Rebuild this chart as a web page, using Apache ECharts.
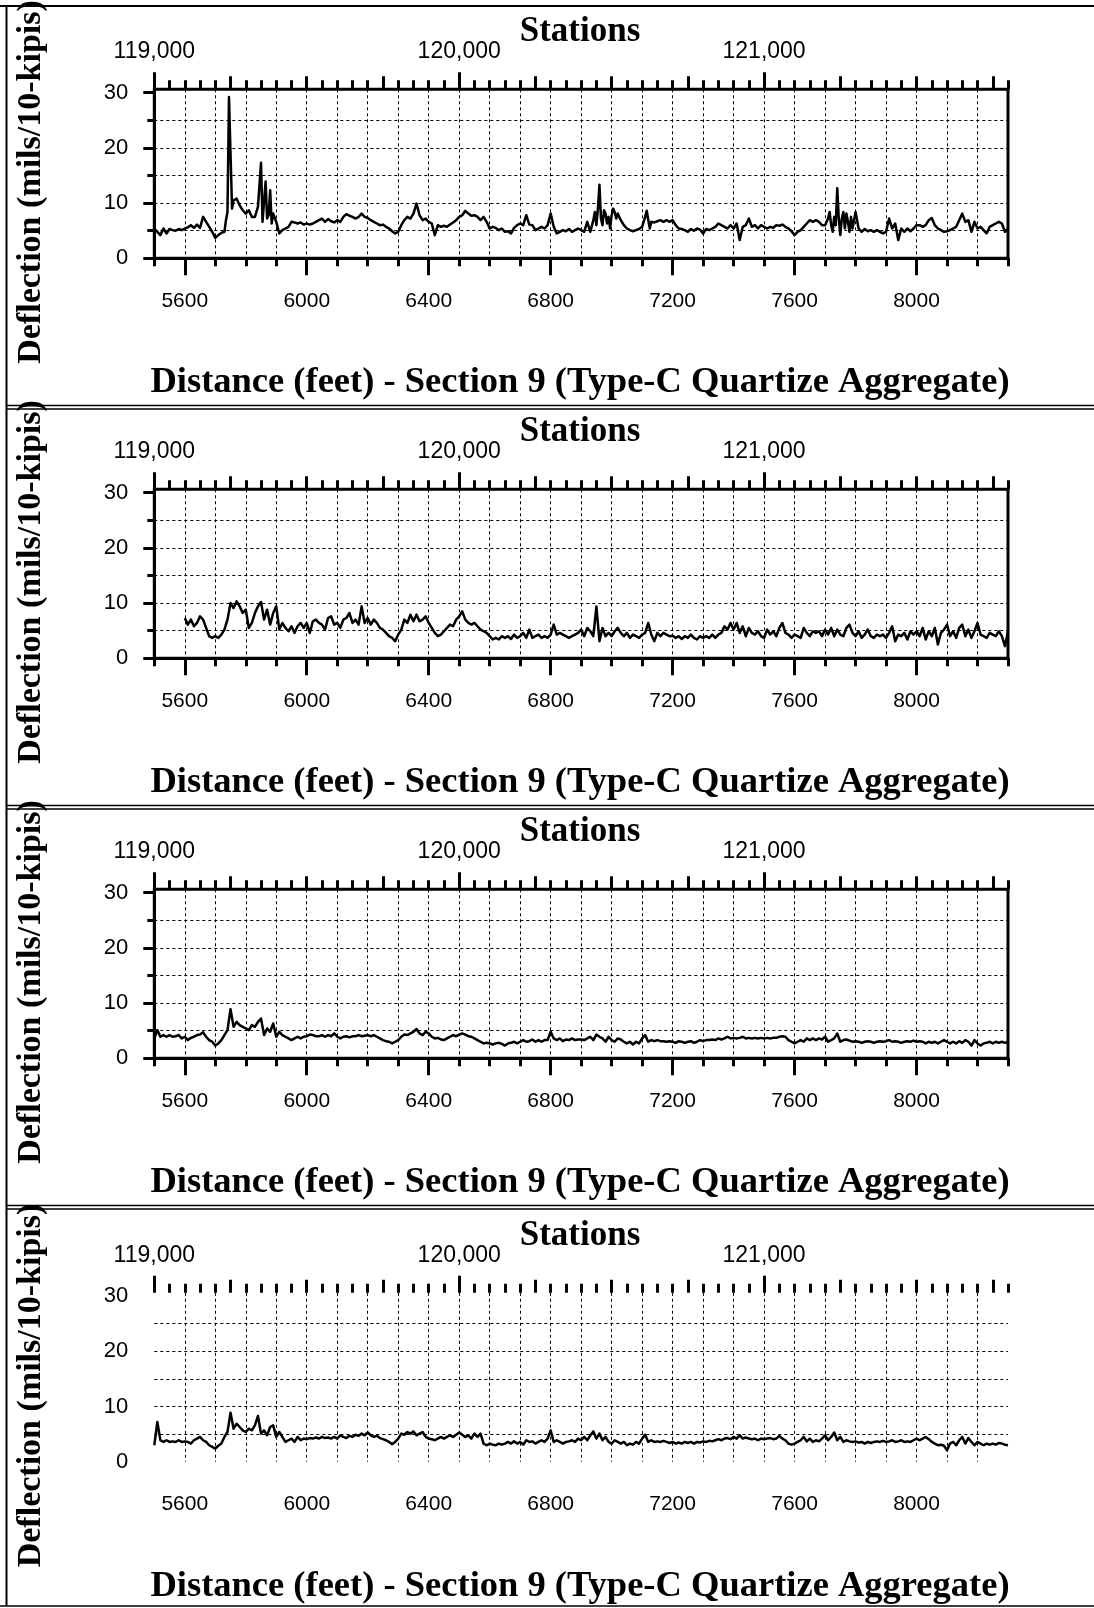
<!DOCTYPE html>
<html>
<head>
<meta charset="utf-8">
<title>Deflection profiles - Section 9</title>
<script src="https://cdn.jsdelivr.net/npm/echarts@6/dist/echarts.min.js"></script>
<style>
  html, body { margin: 0; padding: 0; background: #fff; }
  #chart { width: 1094px; height: 1608px; }
</style>
</head>
<body>
<div id="chart"></div>
<script>
// ---- axis ranges and tick values ----
const X_MIN = 5500, X_MAX = 8300;           // distance (feet)
const STA_MIN = 119000, STA_MAX = 121800;   // stations
const Y_MIN = 0, Y_MAX = 30.6;              // deflection (mils/10-kips)

const distLabels = [5600, 6000, 6400, 6800, 7200, 7600, 8000];
const distMinorTicks = [5500, 5600, 5700, 5800, 5900, 6000, 6100, 6200, 6300, 6400, 6500, 6600, 6700, 6800, 6900,
  7000, 7100, 7200, 7300, 7400, 7500, 7600, 7700, 7800, 7900, 8000, 8100, 8200, 8300];
const distGridLines = [5600, 5700, 5800, 5900, 6000, 6100, 6200, 6300, 6400, 6500, 6600, 6700, 6800, 6900,
  7000, 7100, 7200, 7300, 7400, 7500, 7600, 7700, 7800, 7900, 8000, 8100, 8200];
const stationLabels = [119000, 120000, 121000];
const stationTicks250 = [119000, 119250, 119500, 119750, 120000, 120250, 120500, 120750, 121000, 121250, 121500, 121750];
const stationTicks50 = [119000, 119050, 119100, 119150, 119200, 119250, 119300, 119350, 119400, 119450,
  119500, 119550, 119600, 119650, 119700, 119750, 119800, 119850, 119900, 119950,
  120000, 120050, 120100, 120150, 120200, 120250, 120300, 120350, 120400, 120450,
  120500, 120550, 120600, 120650, 120700, 120750, 120800, 120850, 120900, 120950,
  121000, 121050, 121100, 121150, 121200, 121250, 121300, 121350, 121400, 121450,
  121500, 121550, 121600, 121650, 121700, 121750, 121800];
const yLabels = [0, 10, 20, 30];
const yMinorTicks = [5, 15, 25];
const yGridLines = [5, 10, 15, 20, 25];

// ---- measurements ----
// run 1: [distance, deflection]
const run1 = [
  [5500,5.4],[5510,4.8],[5520,4.2],[5530,5.4],[5540,4.5],[5550,5.3],[5560,5.1],[5570,5.0],[5580,5.3],[5590,5.1],
  [5600,5.4],[5610,5.6],[5620,6.0],[5630,5.5],[5640,6.1],[5650,5.5],[5660,7.5],[5670,6.6],[5680,5.7],[5690,4.8],
  [5700,3.7],[5710,4.2],[5720,4.6],[5730,4.8],[5735,6.9],[5740,8.4],[5745,29.2],[5750,19.0],[5755,9.0],[5760,10.5],
  [5770,10.8],[5780,9.6],[5790,8.7],[5800,8.1],[5810,8.7],[5820,7.5],[5830,7.5],[5840,9.3],[5845,9.0],[5850,17.3],
  [5855,6.6],[5860,6.3],[5865,13.9],[5870,7.2],[5875,7.8],[5880,12.3],[5885,6.3],[5890,8.1],[5895,8.4],[5900,6.6],
  [5910,4.5],[5920,5.1],[5930,5.4],[5940,5.7],[5950,6.6],[5960,6.5],[5970,6.3],[5980,6.5],[5990,6.1],[6000,6.3],
  [6010,6.1],[6020,6.3],[6030,6.6],[6040,6.9],[6050,7.2],[6060,6.6],[6070,7.1],[6080,6.7],[6090,6.5],[6100,6.9],
  [6110,6.6],[6120,7.5],[6130,8.0],[6140,7.7],[6150,7.5],[6160,7.2],[6170,7.5],[6180,8.1],[6190,7.5],[6200,7.3],
  [6210,6.9],[6220,6.6],[6230,6.3],[6240,6.0],[6250,6.1],[6260,5.7],[6270,5.4],[6280,4.9],[6290,4.5],[6300,4.8],
  [6310,6.0],[6320,6.9],[6330,7.5],[6340,7.2],[6350,8.1],[6360,9.9],[6370,7.8],[6380,6.9],[6390,7.2],[6400,6.6],
  [6410,6.3],[6420,4.2],[6430,6.0],[6440,5.7],[6450,5.9],[6460,5.7],[6470,6.1],[6480,6.5],[6490,6.9],[6500,7.5],
  [6510,7.8],[6520,8.6],[6530,8.1],[6540,7.7],[6550,7.8],[6560,7.5],[6570,6.9],[6580,7.5],[6590,6.6],[6600,5.4],
  [6610,5.7],[6620,5.5],[6630,5.1],[6640,5.4],[6650,4.8],[6660,4.9],[6670,4.5],[6680,5.5],[6690,6.0],[6700,6.3],
  [6710,6.0],[6720,7.8],[6730,6.1],[6740,6.0],[6750,5.1],[6760,5.4],[6770,5.7],[6780,5.4],[6790,6.0],[6800,8.1],
  [6810,5.7],[6820,4.5],[6830,4.8],[6840,5.1],[6850,4.9],[6860,5.3],[6870,4.8],[6880,5.1],[6890,5.4],[6900,5.1],
  [6910,4.8],[6920,6.6],[6930,4.8],[6940,6.9],[6945,8.4],[6950,6.0],[6955,9.0],[6960,13.3],[6965,7.2],[6970,6.0],
  [6975,8.7],[6980,8.1],[6985,6.3],[6990,7.5],[6995,5.4],[7000,7.8],[7005,9.0],[7010,8.4],[7015,7.2],[7020,8.1],
  [7030,6.9],[7040,6.0],[7050,5.4],[7060,5.1],[7070,4.9],[7080,5.1],[7090,5.3],[7100,5.7],[7105,6.0],[7110,7.5],
  [7115,8.6],[7120,8.4],[7125,5.4],[7130,6.6],[7140,6.5],[7150,6.7],[7160,6.9],[7170,6.6],[7180,6.9],[7190,6.6],
  [7200,6.9],[7210,6.0],[7220,5.4],[7230,5.3],[7240,5.1],[7250,4.8],[7260,5.3],[7270,5.0],[7280,5.4],[7290,5.2],
  [7300,4.5],[7310,5.3],[7320,5.1],[7330,5.4],[7340,5.7],[7350,6.3],[7360,6.0],[7370,5.7],[7380,5.4],[7390,6.0],
  [7400,5.4],[7410,6.3],[7420,3.3],[7430,5.7],[7440,6.0],[7450,7.2],[7460,5.7],[7470,6.0],[7480,5.4],[7490,6.0],
  [7500,5.7],[7510,5.4],[7520,5.7],[7530,5.5],[7540,6.0],[7550,5.9],[7560,6.1],[7570,5.7],[7580,5.4],[7590,4.9],
  [7600,4.2],[7610,4.8],[7620,5.1],[7630,5.7],[7640,6.3],[7650,6.9],[7660,6.6],[7670,6.9],[7680,6.6],[7690,6.0],
  [7700,6.0],[7710,7.2],[7715,8.4],[7720,6.0],[7725,4.8],[7730,7.5],[7735,6.0],[7740,12.7],[7745,7.2],[7750,4.2],
  [7755,7.2],[7760,8.4],[7765,5.4],[7770,8.1],[7775,6.6],[7780,4.8],[7785,7.5],[7790,5.4],[7800,8.4],[7810,5.4],
  [7820,4.8],[7830,5.3],[7840,4.9],[7850,5.1],[7860,4.8],[7870,5.1],[7880,4.8],[7890,4.5],[7900,4.8],[7910,7.2],
  [7920,5.4],[7930,6.3],[7940,3.3],[7950,5.4],[7960,4.8],[7970,5.4],[7980,4.9],[7990,5.4],[8000,6.0],[8010,6.0],
  [8020,5.7],[8030,6.0],[8040,6.9],[8050,7.3],[8060,6.0],[8070,5.4],[8080,5.1],[8090,4.8],[8100,4.9],[8110,5.1],
  [8120,5.4],[8130,5.7],[8140,6.9],[8150,8.1],[8160,6.6],[8170,6.9],[8180,4.8],[8190,6.6],[8200,5.4],[8210,5.7],
  [8220,5.1],[8230,4.5],[8240,5.7],[8250,6.0],[8260,6.3],[8270,6.6],[8280,6.3],[8290,4.8],[8300,5.4]
];

// runs 2-4 share these distances (feet)
const distance = [
  5500,5510,5520,5530,5540,5550,5560,5570,5580,5590,
  5600,5610,5620,5630,5640,5650,5660,5670,5680,5690,
  5700,5710,5720,5730,5740,5750,5760,5770,5780,5790,
  5800,5810,5820,5830,5840,5850,5860,5870,5880,5890,
  5900,5910,5920,5930,5940,5950,5960,5970,5980,5990,
  6000,6010,6020,6030,6040,6050,6060,6070,6080,6090,
  6100,6110,6120,6130,6140,6150,6160,6170,6180,6190,
  6200,6210,6220,6230,6240,6250,6260,6270,6280,6290,
  6300,6310,6320,6330,6340,6350,6360,6370,6380,6390,
  6400,6410,6420,6430,6440,6450,6460,6470,6480,6490,
  6500,6510,6520,6530,6540,6550,6560,6570,6580,6590,
  6600,6610,6620,6630,6640,6650,6660,6670,6680,6690,
  6700,6710,6720,6730,6740,6750,6760,6770,6780,6790,
  6800,6810,6820,6830,6840,6850,6860,6870,6880,6890,
  6900,6910,6920,6930,6940,6950,6960,6970,6980,6990,
  7000,7010,7020,7030,7040,7050,7060,7070,7080,7090,
  7100,7110,7120,7130,7140,7150,7160,7170,7180,7190,
  7200,7210,7220,7230,7240,7250,7260,7270,7280,7290,
  7300,7310,7320,7330,7340,7350,7360,7370,7380,7390,
  7400,7410,7420,7430,7440,7450,7460,7470,7480,7490,
  7500,7510,7520,7530,7540,7550,7560,7570,7580,7590,
  7600,7610,7620,7630,7640,7650,7660,7670,7680,7690,
  7700,7710,7720,7730,7740,7750,7760,7770,7780,7790,
  7800,7810,7820,7830,7840,7850,7860,7870,7880,7890,
  7900,7910,7920,7930,7940,7950,7960,7970,7980,7990,
  8000,8010,8020,8030,8040,8050,8060,8070,8080,8090,
  8100,8110,8120,8130,8140,8150,8160,8170,8180,8190,
  8200,8210,8220,8230,8240,8250,8260,8270,8280,8290,
  8300
];

const run2 = [
  null,null,null,null,null,null,null,null,null,null,
  7.3,6.1,7.0,5.8,6.4,7.6,7.0,5.5,4.0,3.7,
  4.0,3.7,4.3,5.2,7.0,10.0,9.1,10.3,9.4,8.2,
  8.8,5.5,6.4,8.2,9.4,10.2,7.0,8.8,6.1,8.2,
  9.4,5.2,6.4,5.5,4.9,5.8,4.6,5.8,6.4,5.5,
  6.4,4.6,6.7,7.0,6.4,6.1,5.2,7.3,7.6,6.1,
  6.4,5.5,7.0,7.3,8.2,6.4,7.0,6.1,9.4,6.4,
  7.3,6.1,7.0,6.4,5.5,5.2,4.6,4.0,3.7,3.1,
  4.3,5.2,7.0,6.4,7.9,6.7,7.9,6.7,7.0,7.6,
  6.4,5.5,4.6,4.0,4.3,4.9,5.5,6.1,5.8,7.0,
  7.6,8.5,7.0,6.4,6.1,6.4,5.8,5.2,4.9,4.6,
  4.0,3.4,3.7,3.4,4.0,3.7,4.0,3.5,4.3,3.7,
  4.0,4.6,3.7,5.2,3.7,4.0,4.3,3.7,4.0,3.7,
  4.3,6.1,4.3,4.6,4.3,4.0,3.7,4.0,4.3,4.6,
  5.2,4.0,5.5,4.9,4.0,9.4,3.1,5.5,4.0,4.6,
  4.0,4.9,5.5,4.6,4.0,4.6,3.7,4.3,4.0,3.7,
  4.3,4.6,6.4,4.3,3.1,4.6,4.0,4.6,4.3,4.0,
  4.1,3.7,4.0,3.5,4.0,3.7,4.3,3.7,3.4,4.0,
  3.7,4.0,3.7,4.3,3.7,4.3,4.6,5.8,5.2,6.4,
  5.2,6.4,4.6,5.8,4.0,5.5,4.6,4.3,4.9,4.0,
  3.7,5.2,4.3,4.9,4.0,5.5,6.4,4.6,4.3,3.7,
  4.3,4.0,3.7,5.5,4.6,4.0,4.9,4.6,4.9,4.0,
  5.2,4.3,5.5,4.0,5.2,4.3,4.0,5.5,6.1,4.6,
  4.0,4.9,3.7,4.3,5.2,4.0,3.7,4.3,4.0,4.3,
  3.7,4.6,5.8,3.1,4.3,4.0,4.6,3.4,4.9,4.3,
  4.9,4.0,5.5,3.4,4.9,4.0,5.5,2.5,4.6,5.2,
  6.1,4.0,4.9,3.7,5.5,6.1,4.0,5.2,3.7,4.9,
  6.4,4.3,4.0,3.7,4.6,4.3,4.0,4.9,4.0,2.2,
  4.9
];

const run3 = [
  3.6,5.1,3.9,4.2,3.9,4.2,3.9,4.0,4.2,3.6,
  3.9,3.3,3.7,3.9,4.2,4.3,4.7,3.9,3.3,3.0,
  2.3,2.7,3.3,4.2,5.1,8.9,5.7,6.6,6.0,5.7,
  5.4,5.1,6.0,5.7,6.6,7.2,4.2,5.4,4.8,6.3,
  3.9,4.8,4.2,3.9,3.6,3.3,3.6,3.9,3.6,3.9,
  4.0,4.3,4.2,4.0,4.0,4.2,3.9,4.2,4.0,4.5,
  3.9,3.6,3.9,4.0,3.8,4.0,4.0,4.2,4.0,4.1,
  4.2,4.0,4.2,3.9,3.6,3.3,3.1,3.0,2.7,3.0,
  3.3,3.9,4.3,4.2,4.5,4.8,5.3,4.5,4.2,4.8,
  4.5,3.9,3.6,3.7,3.4,3.3,3.6,3.9,4.2,4.0,
  4.3,4.5,4.3,4.0,3.9,3.6,3.3,3.0,2.7,2.8,
  2.7,2.5,2.7,2.8,2.6,2.3,2.7,2.8,3.0,2.7,
  3.0,3.3,3.0,3.1,3.4,3.0,3.3,3.0,3.3,3.3,
  4.8,3.6,3.3,3.6,3.1,3.4,3.3,3.6,3.3,3.4,
  3.4,3.3,3.6,3.9,3.3,4.3,3.9,3.6,3.0,3.9,
  3.3,3.0,3.6,3.4,3.0,2.7,3.0,2.5,3.0,2.7,
  3.6,4.2,3.0,3.3,3.1,3.3,3.1,3.1,3.0,3.1,
  3.0,2.8,3.1,3.0,2.8,3.0,3.1,2.8,3.0,3.3,
  3.1,3.3,3.3,3.4,3.3,3.6,3.4,3.6,3.9,3.6,
  3.7,3.6,3.7,3.9,3.6,3.7,3.6,3.7,3.6,3.7,
  3.6,3.7,3.6,3.7,3.7,3.9,4.0,3.9,3.3,3.0,
  2.7,3.0,3.3,3.0,3.6,3.3,3.6,3.3,3.6,3.4,
  3.9,3.0,3.3,3.6,4.5,3.0,3.3,3.4,3.2,3.0,
  3.1,3.0,2.8,3.0,3.1,3.0,2.8,3.0,3.1,3.0,
  3.1,3.3,3.0,3.1,3.0,2.8,3.0,3.1,3.0,3.2,
  3.0,3.1,3.0,2.7,3.0,2.8,3.0,2.7,3.0,3.3,
  3.0,2.7,3.0,2.7,3.1,2.8,3.3,3.0,2.3,3.3,
  2.7,2.3,2.7,2.8,3.0,2.7,3.0,2.8,3.0,2.8,
  3.0
];

const run4 = [
  3.0,7.2,3.9,3.6,3.9,3.6,3.7,3.6,3.9,3.6,
  3.7,3.6,3.3,3.9,4.2,4.5,3.9,3.6,3.0,2.7,
  2.4,2.9,3.3,4.5,5.4,8.9,6.0,6.9,6.3,5.7,
  5.4,6.0,5.7,6.6,8.3,5.1,5.7,4.8,6.3,6.6,
  4.5,5.4,4.5,3.6,3.9,4.2,3.6,4.5,3.9,4.2,
  4.1,4.3,4.2,4.4,4.2,4.5,4.3,4.4,4.2,4.5,
  4.2,4.8,4.5,4.3,4.7,4.5,4.9,4.7,5.1,4.8,
  5.3,4.8,4.5,4.7,4.3,4.1,3.9,3.6,3.2,3.6,
  4.2,5.1,4.9,5.4,5.1,5.5,4.8,5.1,5.4,4.5,
  4.2,4.1,3.9,4.2,4.5,4.2,4.5,4.8,4.5,4.9,
  5.3,4.9,4.5,4.8,4.2,5.1,4.5,5.1,3.3,3.0,
  3.3,3.1,3.0,3.3,3.1,3.3,3.6,3.3,3.7,3.3,
  3.6,3.1,3.9,3.6,3.7,3.3,3.6,3.9,3.6,4.2,
  5.7,3.6,3.9,3.6,3.3,3.6,3.7,3.9,3.6,4.2,
  3.9,4.5,3.9,4.8,5.5,4.2,5.1,3.9,4.5,3.6,
  3.3,3.9,3.6,3.3,3.6,3.0,3.3,3.1,3.6,3.3,
  4.2,4.9,3.6,3.9,3.6,3.7,3.6,3.8,3.6,3.4,
  3.6,3.3,3.5,3.3,3.6,3.4,3.6,3.3,3.6,3.5,
  3.7,3.6,3.8,3.7,3.9,4.1,3.9,4.2,4.3,4.1,
  4.5,4.2,4.8,4.2,4.4,4.2,4.1,4.2,3.9,4.2,
  4.1,4.2,4.3,4.1,4.2,4.7,4.2,3.9,3.3,3.1,
  3.3,3.6,3.9,4.5,3.7,4.2,3.6,3.9,3.7,4.2,
  4.8,3.9,4.5,5.3,3.9,4.5,3.6,3.9,3.7,3.6,
  3.7,3.5,3.6,3.3,3.6,3.4,3.6,3.7,3.6,3.8,
  3.6,3.7,3.9,3.6,3.7,3.9,3.6,3.7,3.6,3.9,
  4.2,3.9,4.2,4.5,4.1,3.6,3.3,3.0,3.1,2.9,
  2.1,3.3,3.6,3.0,3.9,4.5,3.3,4.3,3.6,3.0,
  3.6,3.3,3.0,3.3,3.1,3.3,3.1,3.4,3.3,3.1,
  3.0
];

// ---- texts ----
const TOP_TITLE = 'Stations';
const BOTTOM_TITLE = 'Distance (feet) - Section 9 (Type-C Quartize Aggregate)';
const Y_TITLE = 'Deflection (mils/10-kipis)';

// ---- layout ----
const PANEL_OFFSETS = [0, 400, 800, 1203.5];
const FRAMED = [true, true, true, false];
const PLOT_LEFT = 154.3, PLOT_WIDTH = 853.7, PLOT_TOP = 89.3, PLOT_HEIGHT = 169;
const SANS = '"Liberation Sans", Arial, sans-serif';
const SERIF = '"Liberation Serif", "Times New Roman", serif';
const INK = '#000';

function fmtStation(v) {
  return String(v).replace(/\B(?=(\d{3})+(?!\d))/g, ',');
}
function fmtPlain(v) {
  return String(v);
}

function pairs(xs, ys) {
  return xs.map((x, i) => [x, ys[i]]);
}

const grids = [], xAxes = [], yAxes = [], series = [], graphics = [];
const runs = [run1, pairs(distance, run2), pairs(distance, run3), pairs(distance, run4)];

const tickStyle = { color: INK, width: 3 };
const gridLineStyle = { color: INK, width: 1, type: [3, 3] };

PANEL_OFFSETS.forEach((off, g) => {
  const framed = FRAMED[g];
  grids.push({
    left: PLOT_LEFT, top: PLOT_TOP + off, width: PLOT_WIDTH, height: PLOT_HEIGHT,
    show: framed, borderColor: INK, borderWidth: framed ? 3 : 0, backgroundColor: 'transparent',
    containLabel: false, outerBoundsMode: 'none'
  });
  const xBase = { gridIndex: g, type: 'value', min: X_MIN, max: X_MAX, position: 'bottom' };
  const sBase = { gridIndex: g, type: 'value', min: STA_MIN, max: STA_MAX, position: 'top' };
  const firstX = xAxes.length;
  // distance axis: line with 100-ft ticks
  xAxes.push(Object.assign({}, xBase, {
    axisLine: { show: framed, onZero: false, lineStyle: tickStyle },
    axisTick: { show: framed, customValues: distMinorTicks, length: 8, lineStyle: tickStyle },
    axisLabel: { show: false }, splitLine: { show: false }
  }));
  // distance axis: labelled ticks
  xAxes.push(Object.assign({}, xBase, {
    axisLine: { show: false, onZero: false },
    axisTick: { show: framed, customValues: distLabels, length: 17, lineStyle: tickStyle },
    axisLabel: { customValues: distLabels, margin: 32, formatter: fmtPlain,
      color: INK, fontFamily: SANS, fontSize: 21 },
    splitLine: { show: false }
  }));
  // distance axis: dashed grid
  xAxes.push(Object.assign({}, xBase, {
    axisLine: { show: false, onZero: false },
    axisTick: { show: false, customValues: distGridLines },
    axisLabel: { show: false },
    splitLine: { show: true, lineStyle: gridLineStyle }
  }));
  // station axis (top): 50, 250 and 1000 ticks
  xAxes.push(Object.assign({}, sBase, {
    axisLine: { show: false, onZero: false },
    axisTick: { show: true, customValues: stationTicks50, length: 9, lineStyle: tickStyle },
    axisLabel: { show: false }, splitLine: { show: false }
  }));
  xAxes.push(Object.assign({}, sBase, {
    axisLine: { show: false, onZero: false },
    axisTick: { show: true, customValues: stationTicks250, length: 13, lineStyle: tickStyle },
    axisLabel: { show: false }, splitLine: { show: false }
  }));
  xAxes.push(Object.assign({}, sBase, {
    axisLine: { show: false, onZero: false },
    axisTick: { show: true, customValues: stationLabels, length: 17, lineStyle: tickStyle },
    axisLabel: { customValues: stationLabels, margin: 26, formatter: fmtStation,
      color: INK, fontFamily: SANS, fontSize: 23 },
    splitLine: { show: false }
  }));

  const yBase = { gridIndex: g, type: 'value', min: Y_MIN, max: Y_MAX, position: 'left' };
  const firstY = yAxes.length;
  yAxes.push(Object.assign({}, yBase, {
    axisLine: { show: framed, onZero: false, lineStyle: tickStyle },
    axisTick: { show: framed, customValues: yLabels, length: 11, lineStyle: tickStyle },
    axisLabel: { customValues: yLabels, margin: 26, formatter: fmtPlain,
      color: INK, fontFamily: SANS, fontSize: 22 },
    splitLine: { show: false }
  }));
  yAxes.push(Object.assign({}, yBase, {
    axisLine: { show: false, onZero: false },
    axisTick: { show: framed, customValues: yMinorTicks, length: 7, lineStyle: tickStyle },
    axisLabel: { show: false }, splitLine: { show: false }
  }));
  yAxes.push(Object.assign({}, yBase, {
    axisLine: { show: false, onZero: false },
    axisTick: { show: false, customValues: yGridLines },
    axisLabel: { show: false },
    splitLine: { show: true, lineStyle: gridLineStyle }
  }));

  series.push({
    type: 'line', xAxisIndex: firstX, yAxisIndex: firstY, data: runs[g],
    showSymbol: false, symbol: 'none', silent: true, z: 5,
    lineStyle: { color: INK, width: 2.5, join: 'round' }
  });

  // panel titles
  graphics.push({
    type: 'text', x: 580, y: 32 + off, z: 50,
    style: { text: TOP_TITLE, fill: INK, fontFamily: SERIF, fontWeight: 'bold', fontSize: 35,
      align: 'center', verticalAlign: 'middle' }
  });
  graphics.push({
    type: 'text', x: 580, y: 383 + off, z: 50,
    style: { text: BOTTOM_TITLE, fill: INK, fontFamily: SERIF, fontWeight: 'bold', fontSize: 36.5,
      align: 'center', verticalAlign: 'middle' }
  });
  graphics.push({
    type: 'text', x: 31, y: 182 + off, rotation: Math.PI / 2, z: 50,
    style: { text: Y_TITLE, fill: INK, fontFamily: SERIF, fontWeight: 'bold', fontSize: 34,
      align: 'center', verticalAlign: 'middle' }
  });
});

// outer frame and double separators between panels
const frameLine = (x1, y1, x2, y2, w) => ({
  type: 'line', z: 40, shape: { x1, y1, x2, y2 }, style: { stroke: INK, lineWidth: w }
});
graphics.push(frameLine(0, 6, 1094, 6, 2));
graphics.push(frameLine(6.5, 6, 6.5, 1606, 2));
graphics.push(frameLine(0, 1606, 1094, 1606, 1.5));
[0, 400, 800].forEach(off => {
  graphics.push(frameLine(6, 405.5 + off, 1094, 405.5 + off, 1.5));
  graphics.push(frameLine(6, 409 + off, 1094, 409 + off, 1.5));
});

const chart = echarts.init(document.getElementById('chart'), null, { renderer: 'canvas' });
chart.setOption({
  animation: false,
  backgroundColor: '#fff',
  grid: grids,
  xAxis: xAxes,
  yAxis: yAxes,
  series: series,
  graphic: graphics
});
</script>
</body>
</html>
